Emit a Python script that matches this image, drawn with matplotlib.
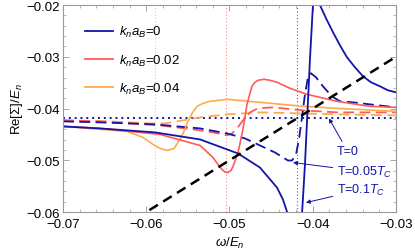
import matplotlib
matplotlib.use("Agg")
import matplotlib.pyplot as plt
from matplotlib.ticker import MultipleLocator

plt.rcParams['font.family'] = ['Liberation Sans', 'DejaVu Sans']
plt.rcParams['mathtext.fontset'] = 'custom'
plt.rcParams['mathtext.rm'] = 'Liberation Sans'
plt.rcParams['mathtext.it'] = 'Liberation Sans:italic'

# colours for k_n a_B = 0, 0.02, 0.04
c_blue = '#1414a8'
c_red = '#ff5a5a'
c_orange = '#ffaa4a'

# k_n a_B = 0, T = 0.1 Tc (solid)
w_b1 = [-0.07, -0.06556, -0.05895, -0.05354, -0.04898, -0.04634, -0.04429, -0.04357, -0.04309,
        -0.0428, -0.0420, -0.0414, -0.04129, -0.04093, -0.04033, -0.03997,
        -0.0398, -0.0392, -0.03913, -0.03841, -0.03757, -0.03673, -0.03589, -0.03492,
        -0.03396, -0.0330, -0.03192, -0.03096, -0.03]
v_b1 = [-0.04345, -0.04384, -0.04461, -0.04597, -0.04868, -0.05140, -0.05527, -0.05760, -0.05992,
        -0.0625, -0.068, -0.063, -0.0605, -0.05081, -0.03047, -0.0200,
        -0.017, -0.0185, -0.0200, -0.02252, -0.02523, -0.02775, -0.03008, -0.03202,
        -0.03376, -0.03492, -0.03570, -0.03647, -0.03686]

# k_n a_B = 0, T = 0.05 Tc (dashed)
w_b2 = [-0.07, -0.06556, -0.05895, -0.05354, -0.0503, -0.04814, -0.04634, -0.04453,
        -0.04357, -0.04297, -0.04249, -0.04201, -0.04165, -0.04129, -0.04093,
        -0.04057, -0.04021, -0.03961, -0.03877, -0.03769, -0.03673, -0.03517,
        -0.03312, -0.03]
v_b2 = [-0.04248, -0.04267, -0.04306, -0.04384, -0.04481, -0.04578, -0.04713, -0.04849,
        -0.04946, -0.05004, -0.05004, -0.04888, -0.04597, -0.04171, -0.03725,
        -0.03395, -0.03318, -0.03395, -0.03570, -0.03764, -0.03860, -0.03880,
        -0.03919, -0.03977]

# k_n a_B = 0, T = 0 (dotted)
v_b0 = -0.0418

# k_n a_B = 0.02, T = 0.1 Tc
w_r1 = [-0.07, -0.06556, -0.05835, -0.05354, -0.05198, -0.05138, -0.0509, -0.05054, -0.05018,
        -0.04982, -0.04958, -0.04898, -0.0485, -0.04814, -0.0479, -0.04754, -0.0473, -0.04694,
        -0.04658, -0.04586, -0.04513, -0.04429, -0.04273, -0.04069, -0.03709, -0.03312, -0.03]
v_r1 = [-0.04345, -0.04384, -0.045, -0.04713, -0.04946, -0.05081, -0.05178, -0.05227, -0.05236,
        -0.05198, -0.0512, -0.04849, -0.045, -0.04171, -0.03919, -0.03705, -0.0357, -0.03492,
        -0.03454, -0.03434, -0.03454, -0.03492, -0.03609, -0.03725, -0.0386, -0.03957, -0.03977]

# k_n a_B = 0.02, T = 0.05 Tc
w_r2 = [-0.07, -0.06556, -0.05835, -0.05438, -0.05198, -0.0503, -0.0497, -0.0491,
        -0.04838, -0.04754, -0.04658, -0.04477, -0.04117, -0.03709, -0.03]
v_r2 = [-0.04229, -0.04248, -0.04326, -0.04403, -0.04461, -0.04519, -0.04481, -0.04384,
        -0.04229, -0.04074, -0.03996, -0.03977, -0.04035, -0.04074, -0.04074]

# k_n a_B = 0.04, T = 0.1 Tc
w_o1 = [-0.07, -0.06231, -0.06039, -0.05919, -0.05835, -0.05751, -0.05667, -0.05595,
        -0.05547, -0.0551, -0.0545, -0.0539, -0.05318, -0.05234, -0.0503, -0.04634,
        -0.04117, -0.03709, -0.03]
v_o1 = [-0.04345, -0.04442, -0.04558, -0.04694, -0.04771, -0.0481, -0.04771, -0.04597,
        -0.04442, -0.04287, -0.04093, -0.03957, -0.03899, -0.0386, -0.03822, -0.0388,
        -0.03957, -0.03996, -0.04054]

# k_n a_B = 0.04, T = 0.05 Tc
w_o2 = [-0.07, -0.06435, -0.05955, -0.05775, -0.05631, -0.05354, -0.0503, -0.04634,
        -0.04153, -0.03709, -0.03]
v_o2 = [-0.04229, -0.04248, -0.04287, -0.04287, -0.04248, -0.04171, -0.04112, -0.04074,
        -0.04093, -0.04112, -0.04132]

# quasiparticle energies (vertical dotted lines)
w_qp = [-0.0419, -0.0504, -0.0589]
qp_colors = [c_blue, c_red, c_orange]

legend_labels = ['$k_n a_B$=0', '$k_n a_B$=0.02', '$k_n a_B$=0.04']

fig = plt.figure(figsize=(4.15, 2.53), dpi=100)
ax = fig.add_axes([0.152, 0.158, 0.802, 0.818])

for w, c in zip(w_qp, qp_colors):
    ax.axvline(w, color=c, lw=0.8, ls=(0, (1, 2)), alpha=0.7)

ax.axhline(v_b0, color=c_blue, lw=1.4, ls=(0, (1, 2)))

ax.plot(w_o2, v_o2, color=c_orange, lw=1.3, ls=(0, (6, 3)))
ax.plot(w_r2, v_r2, color=c_red, lw=1.3, ls=(0, (6, 3)))
ax.plot(w_b2, v_b2, color=c_blue, lw=1.3, ls=(0, (6, 3)))

ax.plot(w_o1, v_o1, color=c_orange, lw=1.2)
ax.plot(w_r1, v_r1, color=c_red, lw=1.2)
ax.plot(w_b1, v_b1, color=c_blue, lw=1.3)

# omega = Re Sigma line
ax.plot([-0.07, -0.03], [-0.07, -0.03], color='black', lw=1.8, ls=(0, (4, 2.5)))

# legend proxies
h1, = ax.plot([], [], color=c_blue, lw=1.3)
h2, = ax.plot([], [], color=c_red, lw=1.3)
h3, = ax.plot([], [], color=c_orange, lw=1.3)
ax.legend([h1, h2, h3], legend_labels, loc='upper left', bbox_to_anchor=(0.03, 0.965),
          frameon=False, fontsize=9.5, handlelength=2.1, labelspacing=1.0,
          handletextpad=0.5)

ann = dict(color=c_blue, fontsize=9, va='center', ha='left')
arr = dict(arrowstyle='-|>', color=c_blue, lw=0.7, mutation_scale=6, shrinkA=1, shrinkB=0)
ax.annotate('T=0', xy=(-0.03805, -0.0419), xytext=(-0.0371, -0.0483),
            arrowprops=arr, **ann)
ax.annotate('T=0.05$T_C$', xy=(-0.04237, -0.05043), xytext=(-0.0371, -0.0522),
            arrowprops=arr, **ann)
ax.annotate('T=0.1$T_C$', xy=(-0.04081, -0.05818), xytext=(-0.0371, -0.0557),
            arrowprops=arr, **ann)

ax.set_xlim(-0.07, -0.03)
ax.set_ylim(-0.06, -0.02)
ax.xaxis.set_major_locator(MultipleLocator(0.01))
ax.yaxis.set_major_locator(MultipleLocator(0.01))
ax.xaxis.set_minor_locator(MultipleLocator(0.002))
ax.yaxis.set_minor_locator(MultipleLocator(0.002))
ax.tick_params(which='both', direction='in', top=True, right=True, color='#999999',
               labelsize=9.5, pad=2)
ax.tick_params(which='major', length=4, width=0.6)
ax.tick_params(which='minor', length=2, width=0.5)
ax.tick_params(axis='x', which='major', pad=4)
for s in ax.spines.values():
    s.set_color('#999999')
    s.set_linewidth(0.8)

ax.set_xlabel('$\\omega/E_n$', fontsize=9.5, labelpad=4)
ax.set_ylabel('Re[Σ]/$E_n$', fontsize=9.5, labelpad=1)

plt.savefig('out.png', dpi=100)
